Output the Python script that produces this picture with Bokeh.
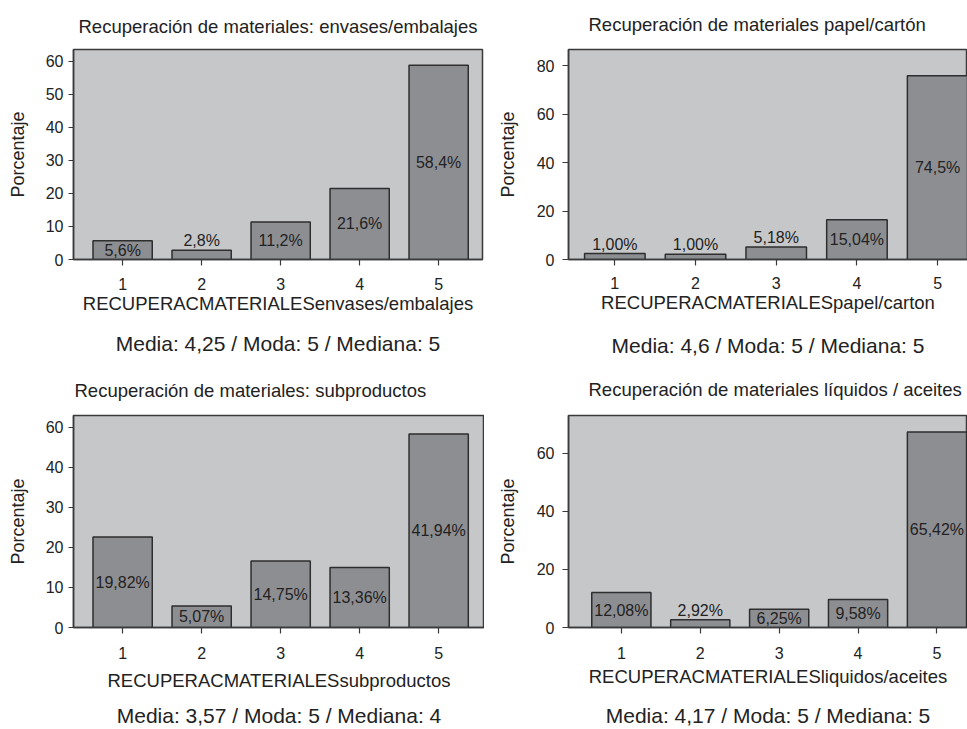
from bokeh.plotting import figure
from bokeh.models import FixedTicker, Range1d, Title, ColumnDataSource, LinearAxis
from bokeh.layouts import row, column
from bokeh.embed import file_html
from bokeh.resources import INLINE
from bokeh.core.properties import value

cats = [1, 2, 3, 4, 5]

env_vals = [5.7, 2.8, 11.35, 21.5, 58.7]
env_labels = ["5,6%", "2,8%", "11,2%", "21,6%", "58,4%"]
pap_vals = [2.47, 2.2, 5.2, 16.4, 75.75]
pap_labels = ["1,00%", "1,00%", "5,18%", "15,04%", "74,5%"]
sub_vals = [22.6, 5.35, 16.6, 15.0, 48.3]
sub_labels = ["19,82%", "5,07%", "14,75%", "13,36%", "41,94%"]
liq_vals = [12.05, 2.7, 6.25, 9.66, 67.3]
liq_labels = ["12,08%", "2,92%", "6,25%", "9,58%", "65,42%"]

env_ticks = [0, 10, 20, 30, 40, 50, 60]
pap_ticks = [0, 20, 40, 60, 80]
sub_ticks = [0, 10, 20, 30, 40, 50]
sub_tick_labels = {50: "60"}
liq_ticks = [0, 20, 40, 60]

titles = ["Recuperación de materiales: envases/embalajes",
          "Recuperación de materiales papel/cartón",
          "Recuperación de materiales: subproductos",
          "Recuperación de materiales líquidos / aceites"]
xlabels = ["RECUPERACMATERIALESenvases/embalajes",
           "RECUPERACMATERIALESpapel/carton",
           "RECUPERACMATERIALESsubproductos",
           "RECUPERACMATERIALESliquidos/aceites"]
stats = ["Media: 4,25 / Moda: 5 / Mediana: 5",
         "Media: 4,6 / Moda: 5 / Mediana: 5",
         "Media: 3,57 / Moda: 5 / Mediana: 4",
         "Media: 4,17 / Moda: 5 / Mediana: 5"]

FONT = "Liberation Sans"
BG = "#c6c7c9"
BAR = "#8d8e92"
EDGE = "#2e2e2e"
TXT = "#222222"


def panel(vals, labels, ticks, overrides, ttl, xl, st, width, height,
          mb, xr, ymax, ytick_out, ytick_stand, xtick_stand, ylab_stand,
          t_align, t_off, t_stand, als1, als2):
    p = figure(width=width, height=height, output_backend="svg",
               toolbar_location=None, tools="", title=None,
               x_range=Range1d(*xr), y_range=Range1d(0, ymax),
               min_border_left=mb[0], min_border_right=mb[1],
               min_border_top=mb[2], min_border_bottom=mb[3])
    p.background_fill_color = BG
    p.border_fill_color = "white"
    p.outline_line_color = "#3a3a3a"
    p.outline_line_width = 1.5
    p.grid.visible = False

    frame_h = height - mb[2] - mb[3]
    ppu = frame_h / ymax
    ly = []
    for v in vals:
        if v * ppu < 15:
            ly.append(v + 9.5 / ppu)
        else:
            ly.append(v / 2)
    src = ColumnDataSource(dict(x=cats, top=vals, lab=labels, ly=ly))
    p.vbar(x="x", top="top", width=0.75, bottom=0, source=src,
           fill_color=BAR, line_color=EDGE, line_width=1.5)
    p.text(x="x", y="ly", text="lab", source=src, text_align="center",
           text_baseline="middle", text_font=value(FONT),
           text_font_size="16px", text_color=TXT)

    for ax in (p.xaxis[0], p.yaxis[0]):
        ax.axis_line_color = "#3a3a3a"
        ax.axis_line_width = 1.5
        ax.major_tick_line_color = "#3a3a3a"
        ax.major_tick_line_width = 1.2
        ax.minor_tick_line_color = None
        ax.major_tick_in = 0
        ax.major_label_text_font = FONT
        ax.major_label_text_font_size = "16px"
        ax.major_label_text_color = TXT
        ax.axis_label_text_font = FONT
        ax.axis_label_text_font_style = "normal"
        ax.axis_label_text_color = TXT
    p.xaxis.major_tick_out = 6
    p.yaxis.major_tick_out = ytick_out
    p.xaxis.major_label_standoff = xtick_stand
    p.yaxis.major_label_standoff = ytick_stand
    p.xaxis.ticker = FixedTicker(ticks=cats)
    p.yaxis.ticker = FixedTicker(ticks=ticks)
    if overrides:
        p.yaxis.major_label_overrides = overrides
    p.yaxis.axis_label = "Porcentaje"
    p.yaxis.axis_label_text_font_size = "18px"
    p.yaxis.axis_label_standoff = ylab_stand

    p.xaxis.axis_label = xl
    p.xaxis.axis_label_text_font_size = "18.5px"
    p.xaxis.axis_label_standoff = als1

    ax2 = LinearAxis(ticker=FixedTicker(ticks=[]), axis_label=st,
                     axis_label_standoff=als2, axis_line_color=None,
                     major_tick_out=0, major_tick_in=0,
                     major_label_standoff=0, minor_tick_line_color=None,
                     major_tick_line_color=None,
                     axis_label_text_font=FONT,
                     axis_label_text_font_size="21px",
                     axis_label_text_font_style="normal",
                     axis_label_text_color=TXT)
    p.add_layout(ax2, "below")

    t0 = Title(text=ttl, align=t_align, offset=t_off, standoff=t_stand,
               vertical_align="top", text_font=FONT,
               text_font_size="18.5px", text_font_style="normal",
               text_color=TXT)
    p.add_layout(t0, "above")
    return p


p1 = panel(env_vals, env_labels, env_ticks, None, titles[0], xlabels[0], stats[0],
           484, 364, (73, 2, 45, 105), (0.378, 5.555), 63.5, 5, 5, 12, 15,
           "center", 0, 21, 0, 15)
p2 = panel(pap_vals, pap_labels, pap_ticks, None, titles[1], xlabels[1], stats[1],
           483, 364, (84, 0, 49, 104), (0.426, 5.37), 86.6, 6, 8, 11, 16,
           "left", 20, 25, 0, 18)
p3 = panel(sub_vals, sub_labels, sub_ticks, sub_tick_labels, titles[2], xlabels[2], stats[2],
           484, 365, (73, 0, 49, 101), (0.378, 5.58), 52.9, 5, 5, 13, 15,
           "left", 1, 25, 8, 10)
p4 = panel(liq_vals, liq_labels, liq_ticks, None, titles[3], xlabels[3], stats[3],
           483, 365, (84, 0, 51, 101), (0.33, 5.387), 73.0, 6, 8, 13, 16,
           "left", 20, 27, 4, 14)

layout = column(row(p1, p2), row(p3, p4))
open("out.html", "w").write(file_html(layout, INLINE))
